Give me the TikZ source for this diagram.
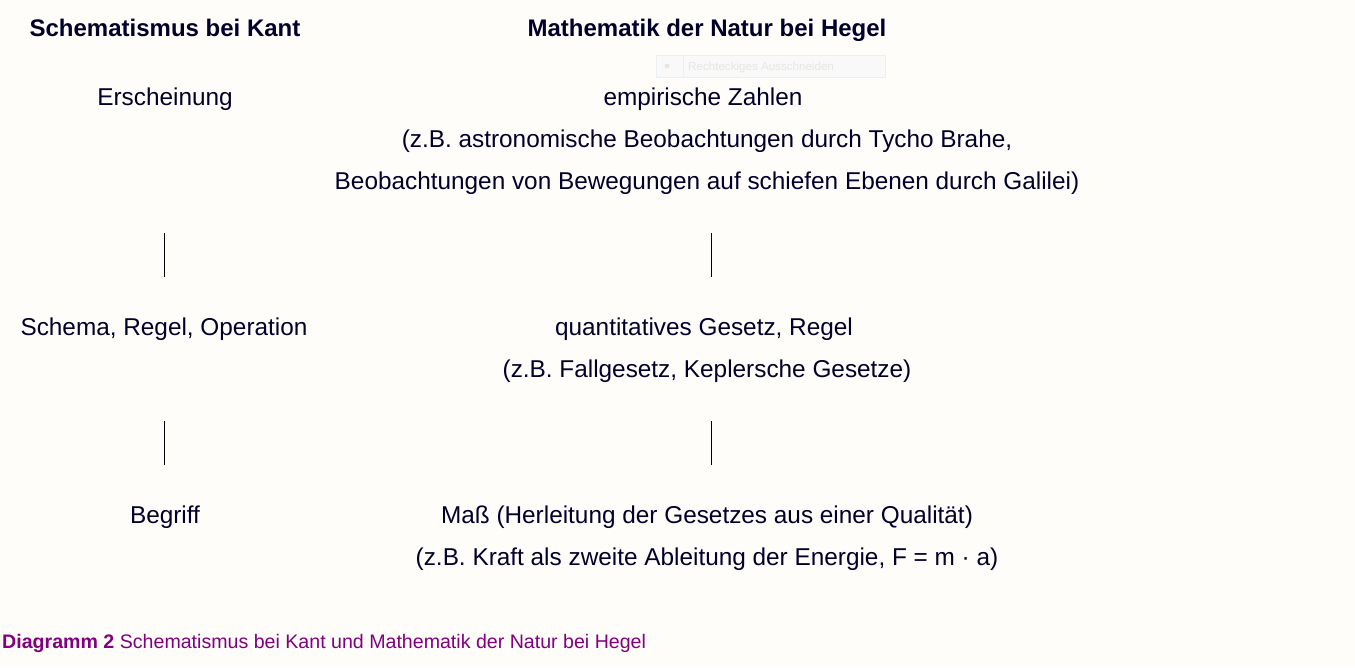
\documentclass[tikz,border=0pt]{standalone}
\usepackage{fontspec}
\setmainfont{Liberation Sans}
\definecolor{bgc}{HTML}{FFFDFA}
\definecolor{txt}{HTML}{00002A}
\definecolor{capc}{HTML}{800080}
\definecolor{ghostfill}{HTML}{F8F9F8}
\definecolor{ghostline}{HTML}{E8F0F4}
\definecolor{ghosttext}{HTML}{E6E6E4}
\tikzset{
  base/.style={anchor=base, inner sep=0pt, text=txt, font=\fontsize{24.35}{28}\selectfont},
  head/.style={base, font=\fontsize{24}{28}\selectfont\bfseries},
  link/.style={draw=black, line width=1pt},
  capt/.style={anchor=base west, inner sep=0pt, text=capc, font=\fontsize{19.6}{23}\selectfont},
}
\begin{document}
\begin{tikzpicture}[x=1pt,y=-1pt]
\useasboundingbox (0,0) rectangle (1355,667);
\fill[bgc] (0,0) rectangle (1355,667);
% faint ghost box
\node[draw=ghostline, fill=ghostfill, line width=0.8pt, minimum width=229pt, minimum height=22pt, inner sep=0pt, anchor=north west] (ghost) at (656,55) {};
\fill[ghosttext] (667,66) circle (2.5pt);
\draw[ghostline, line width=0.8pt] (683,55) -- (683,77);
\node[anchor=base west, inner sep=0pt, text=ghosttext, font=\fontsize{11.6}{13}\selectfont] (ghosttxt) at (688,70) {Rechteckiges Ausschneiden};
% headings
\node[head] (hk) at (165,36) {Schematismus bei Kant};
\node[head] (hh) at (707,36) {Mathematik der Natur bei Hegel};
% left column
\node[base] (k1) at (165,105) {Erscheinung};
\node[base] (k2) at (164,335) {Schema, Regel, Operation};
\node[base] (k3) at (165,523) {Begriff};
% right column
\node[base] (h1) at (703,105) {empirische Zahlen};
\node[base] (h1b) at (707,147) {(z.B. astronomische Beobachtungen durch Tycho Brahe,};
\node[base] (h1c) at (707,189) {Beobachtungen von Bewegungen auf schiefen Ebenen durch Galilei)};
\node[base] (h2) at (704,335) {quantitatives Gesetz, Regel};
\node[base] (h2b) at (707,377) {(z.B. Fallgesetz, Keplersche Gesetze)};
\node[base] (h3) at (707,523) {Maß (Herleitung der Gesetzes aus einer Qualität)};
\node[base] (h3b) at (707,565) {(z.B. Kraft als zweite Ableitung der Energie, F = m · a)};
% connectors
\coordinate (la1) at (164.5,233); \coordinate (la2) at (164.5,277);
\coordinate (lb1) at (164.5,421); \coordinate (lb2) at (164.5,465);
\coordinate (ra1) at (711.5,233); \coordinate (ra2) at (711.5,277);
\coordinate (rb1) at (711.5,421); \coordinate (rb2) at (711.5,465);
\draw[link] (la1) -- (la2);
\draw[link] (lb1) -- (lb2);
\draw[link] (ra1) -- (ra2);
\draw[link] (rb1) -- (rb2);
% caption
\node[capt] (cap) at (2,648) {\textbf{Diagramm 2} Schematismus bei Kant und Mathematik der Natur bei Hegel};
\end{tikzpicture}
\end{document}
